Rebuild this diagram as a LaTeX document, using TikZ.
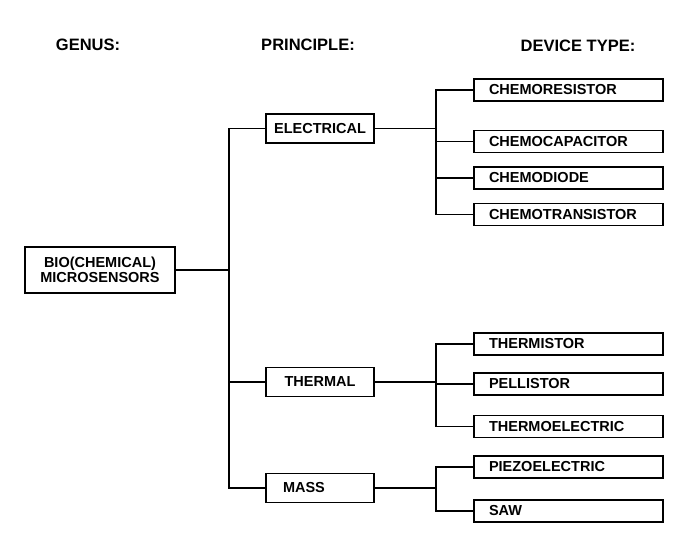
\documentclass[tikz,border=0pt]{standalone}
\usepackage{fontspec}
\setmainfont{Liberation Sans}
\usepackage{tikz}
\usetikzlibrary{calc}

\begin{document}
\begin{tikzpicture}[x=1pt,y=-1pt,
  line width=1.4pt,
  hdr/.style={font=\bfseries\fontsize{16.5}{18}\selectfont},
  genusbox/.style={draw,line width=1.8pt,minimum width=150pt,minimum height=46pt,align=center,
    font=\bfseries\fontsize{14.5}{14.5}\selectfont},
  princbox/.style={draw,line width=1.8pt,minimum width=108pt,minimum height=29pt,
    font=\bfseries\fontsize{14.5}{16}\selectfont},
  devbox/.style={draw,line width=1.8pt,text width=159pt,inner xsep=15pt,align=left,
    minimum height=22pt,inner ysep=2pt,font=\bfseries\fontsize{14.5}{16}\selectfont}]
  \useasboundingbox (0,0) rectangle (694,535);

  \node[hdr] (genushdr) at (88,45) {GENUS:};
  \node[hdr] (princhdr) at (308,45) {PRINCIPLE:};
  \node[hdr] (devhdr) at (578,46) {DEVICE TYPE:};

  \node[genusbox] (genus) at (100,270) {BIO(CHEMICAL)\\MICROSENSORS};

  \node[princbox] (elec) at (320,128.5) {ELECTRICAL};
  \node[princbox] (therm) at (320,382) {THERMAL};
  \node[princbox,text width=74pt,inner xsep=17pt,align=left] (mass) at (320,488) {MASS};

  \node[devbox] (cres) at (568.5,90) {CHEMORESISTOR};
  \node[devbox] (ccap) at (568.5,141.5) {CHEMOCAPACITOR};
  \node[devbox] (cdio) at (568.5,178) {CHEMODIODE};
  \node[devbox] (ctra) at (568.5,214.5) {CHEMOTRANSISTOR};

  \node[devbox] (thmr) at (568.5,344) {THERMISTOR};
  \node[devbox] (pell) at (568.5,384) {PELLISTOR};
  \node[devbox] (thel) at (568.5,426.5) {THERMOELECTRIC};

  \node[devbox] (piez) at (568.5,467) {PIEZOELECTRIC};
  \node[devbox] (saw) at (568.5,511) {SAW};

  \coordinate (trunk) at (229,0);
  \coordinate (bus) at (436,0);

  % genus to principles
  \draw (genus.east) -- (genus.east -| trunk);
  \draw (elec.west) -- (elec.west -| trunk) -- (mass.west -| trunk) -- (mass.west);
  \draw (therm.west) -- (therm.west -| trunk);

  % principles to device types
  \draw (elec.east) -- (elec.east -| bus);
  \draw (cres.west) -- (cres.west -| bus) -- (ctra.west -| bus) -- (ctra.west);
  \draw (ccap.west) -- (ccap.west -| bus);
  \draw (cdio.west) -- (cdio.west -| bus);

  \draw (therm.east) -- (therm.east -| bus);
  \draw (thmr.west) -- (thmr.west -| bus) -- (thel.west -| bus) -- (thel.west);
  \draw (pell.west) -- (pell.west -| bus);

  \draw (mass.east) -- (mass.east -| bus);
  \draw (piez.west) -- (piez.west -| bus) -- (saw.west -| bus) -- (saw.west);
\end{tikzpicture}
\end{document}
